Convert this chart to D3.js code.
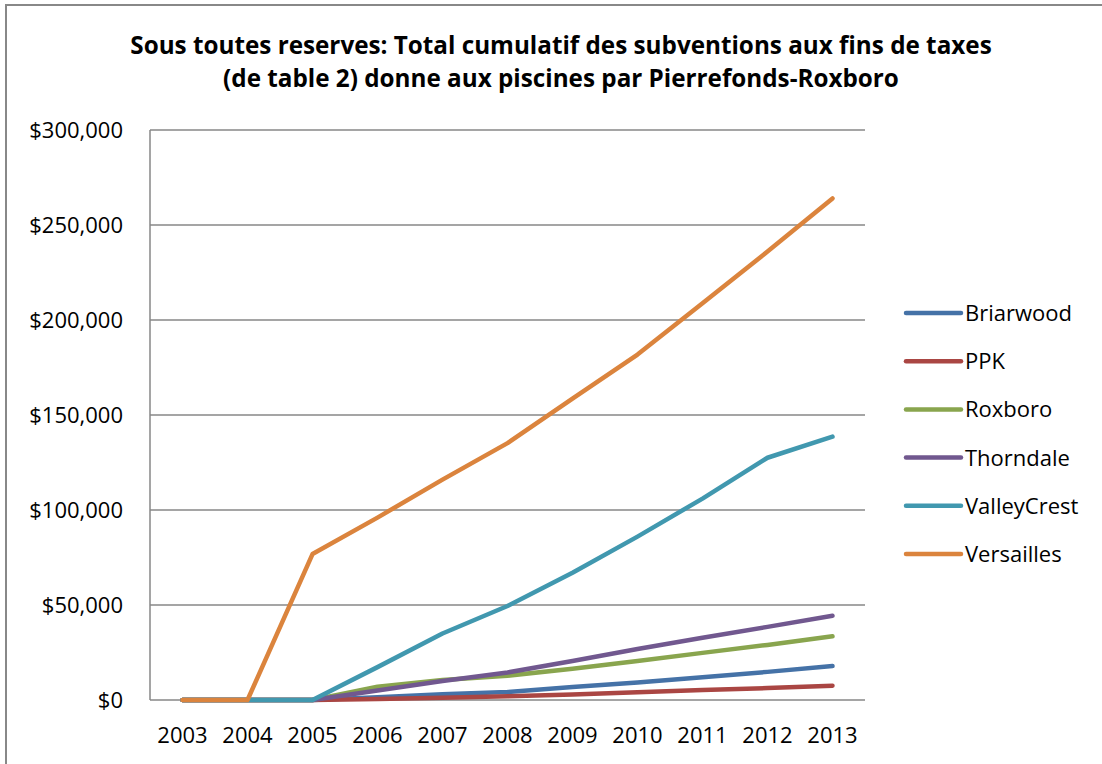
<!doctype html>
<html>
  <head>
    <script src="https://cdn.jsdelivr.net/npm/d3@7"></script>
    <style>
      body { margin: 0; background: #fff; }
      text { font-family: "Open Sans", sans-serif; fill: #000; }
    </style>
  </head>
  <body>
    <svg id="chart" width="1102" height="764"></svg>

    <script>
      // years along the bottom
      var years = ["2003", "2004", "2005", "2006", "2007", "2008", "2009", "2010", "2011", "2012", "2013"];

      // cumulative amounts per pool
      var briarwood   = [0, 0, 0, 1500, 3000, 4200, 6800, 9200, 12000, 14800, 17900];
      var ppk         = [0, 0, 0, 500, 1200, 2000, 2900, 4100, 5200, 6300, 7500];
      var roxboro     = [0, 0, 0, 7000, 10500, 12800, 16500, 20500, 24800, 29000, 33500];
      var thorndale   = [0, 0, 0, 5000, 10000, 14500, 20500, 26800, 32800, 38500, 44300];
      var valleycrest = [0, 0, 0, 17300, 35000, 49500, 67000, 86000, 106000, 127500, 138600];
      var versailles  = [0, 0, 76800, 96000, 116000, 135200, 158600, 181800, 208800, 236000, 264000];

      var seriesNames = ["Briarwood", "PPK", "Roxboro", "Thorndale", "ValleyCrest", "Versailles"];
      var seriesValues = [briarwood, ppk, roxboro, thorndale, valleycrest, versailles];
      var colors = ["#4572A7", "#AA4643", "#89A54E", "#71588F", "#4198AF", "#DB843D"];

      var yTicks = [0, 50000, 100000, 150000, 200000, 250000, 300000];

      var svg = d3.select("#chart");

      // outer chart border (only top and left show in the picture)
      svg.append("rect")
        .attr("x", 6).attr("y", 5)
        .attr("width", 1110).attr("height", 780)
        .attr("fill", "none")
        .attr("stroke", "#888")
        .attr("stroke-width", 2);

      var plot = { left: 150, right: 865, top: 130, bottom: 700 };

      var x = d3.scaleBand().domain(years).range([plot.left, plot.right]);
      var y = d3.scaleLinear().domain([0, 300000]).range([plot.bottom, plot.top]);

      // gridlines
      svg.append("g")
        .selectAll("line")
        .data(yTicks)
        .enter()
        .append("line")
          .attr("x1", plot.left).attr("x2", plot.right)
          .attr("y1", function(d) { return y(d); })
          .attr("y2", function(d) { return y(d); })
          .attr("stroke", "#878787")
          .attr("stroke-width", 1.5);

      // y axis line
      svg.append("line")
        .attr("x1", plot.left).attr("x2", plot.left)
        .attr("y1", plot.top).attr("y2", plot.bottom)
        .attr("stroke", "#878787")
        .attr("stroke-width", 1.5);

      // y labels
      var fmt = d3.format("$,");
      svg.append("g")
        .selectAll("text")
        .data(yTicks)
        .enter()
        .append("text")
          .attr("x", 123)
          .attr("y", function(d) { return y(d) + 8; })
          .attr("text-anchor", "end")
          .style("font-size", "22px")
          .text(function(d) { return fmt(d); });

      // x labels
      svg.append("g")
        .selectAll("text")
        .data(years)
        .enter()
        .append("text")
          .attr("x", function(d) { return x(d) + x.bandwidth() / 2; })
          .attr("y", 743)
          .attr("text-anchor", "middle")
          .style("font-size", "22px")
          .text(function(d) { return d; });

      // lines
      var line = d3.line()
        .x(function(d, i) { return x(years[i]) + x.bandwidth() / 2; })
        .y(function(d) { return y(d); });

      svg.append("g")
        .selectAll("path")
        .data(seriesValues)
        .enter()
        .append("path")
          .attr("d", line)
          .attr("fill", "none")
          .attr("stroke", function(d, i) { return colors[i]; })
          .attr("stroke-width", 4.5)
          .attr("stroke-linecap", "round")
          .attr("stroke-linejoin", "round");

      // legend
      var legend = svg.append("g")
        .selectAll("g")
        .data(seriesNames)
        .enter()
        .append("g")
          .attr("transform", function(d, i) { return "translate(906," + (313 + i * 48.2) + ")"; });

      legend.append("line")
        .attr("x1", 0).attr("x2", 55)
        .attr("stroke", function(d, i) { return colors[i]; })
        .attr("stroke-width", 4.5)
        .attr("stroke-linecap", "round");

      legend.append("text")
        .attr("x", 59)
        .attr("y", 8)
        .style("font-size", "22px")
        .text(function(d) { return d; });

      // title, two lines, fitted to the original width
      var titleLines = [
        "Sous toutes reserves: Total cumulatif des subventions aux fins de taxes",
        "(de table 2) donne aux piscines par Pierrefonds-Roxboro"
      ];
      var title = svg.append("g")
        .selectAll("text")
        .data(titleLines)
        .enter()
        .append("text")
          .attr("x", 561)
          .attr("y", function(d, i) { return 54 + i * 33; })
          .attr("text-anchor", "middle")
          .style("font-size", "20px")
          .style("font-weight", "bold")
          .text(function(d) { return d; });

      var w0 = title.nodes()[0].getComputedTextLength();
      var size = 20 * 862 / w0;
      title.style("font-size", size + "px");
    </script>
  </body>
</html>
